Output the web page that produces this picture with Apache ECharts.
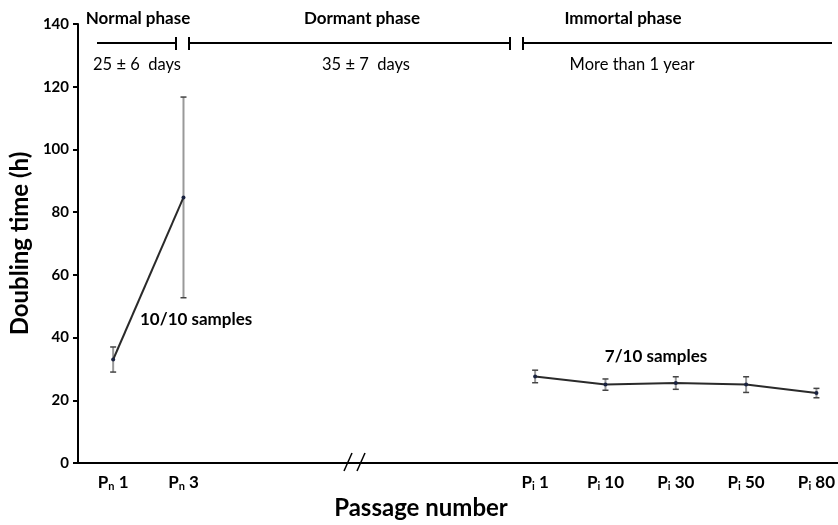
<!DOCTYPE html>
<html>
<head>
<meta charset="utf-8">
<script src="https://cdn.jsdelivr.net/npm/echarts@6/dist/echarts.min.js"></script>
<style>
  html, body { margin: 0; padding: 0; background: #fff; }
  #chart { width: 838px; height: 525px; }
</style>
</head>
<body>
<div id="chart"></div>
<script>
// passage positions on the (broken) x axis and their labels
const passagePos = [0, 1, 6, 7, 8, 9, 10];
const passagePhase = ['n', 'n', 'i', 'i', 'i', 'i', 'i'];
const passageNum = ['1', '3', '1', '10', '30', '50', '80'];
// doubling time (h), mean and error
const meanDoubling = [33, 84.7, 27.6, 25.0, 25.5, 25.0, 22.3];
const errDoubling = [4, 32, 2, 1.8, 2, 2.5, 1.5];
const yTicks = [0, 20, 40, 60, 80, 100, 120, 140];

const FONT = 'Lato';

const normalPts = [];
const immortalPts = [];
const errData = [];
passagePos.forEach((p, i) => {
  const pt = [p, meanDoubling[i]];
  if (passagePhase[i] === 'n') normalPts.push(pt); else immortalPts.push(pt);
  errData.push([p, meanDoubling[i] - errDoubling[i], meanDoubling[i] + errDoubling[i]]);
});

const chart = echarts.init(document.getElementById('chart'));

function lineSeries(data) {
  return {
    type: 'line',
    data: data,
    symbol: 'circle',
    symbolSize: 4,
    itemStyle: { color: '#1a2340' },
    lineStyle: { color: '#2a2a2a', width: 2 },
    z: 5,
    animation: false
  };
}

function txt(x, y, s, size, bold, align) {
  return {
    type: 'text', x: x, y: y,
    style: {
      text: s, fontFamily: FONT, fontWeight: bold ? 'bold' : 'normal', fontSize: size,
      fill: '#000', align: align || 'center', verticalAlign: 'middle'
    }
  };
}

function seg(x1, y1, x2, y2, w) {
  return { type: 'line', shape: { x1: x1, y1: y1, x2: x2, y2: y2 }, style: { stroke: '#000', lineWidth: w || 2 } };
}

const option = {
  animation: false,
  grid: { left: 77, right: 0, top: 24, bottom: 62, containLabel: false },
  xAxis: {
    type: 'value',
    min: -0.5,
    max: 10.3,
    axisLine: { show: true, onZero: false, lineStyle: { color: '#000', width: 2 } },
    axisTick: { show: false },
    splitLine: { show: false },
    axisLabel: {
      customValues: passagePos,
      margin: 11,
      formatter: function (v) {
        const i = passagePos.indexOf(v);
        if (i < 0) return '';
        return '{p|P}{s|' + passagePhase[i] + '}{p| ' + passageNum[i] + '}';
      },
      rich: {
        p: { fontFamily: FONT, fontWeight: 'bold', fontSize: 17, color: '#000' },
        s: { fontFamily: FONT, fontWeight: 'bold', fontSize: 11, color: '#000', verticalAlign: 'bottom', padding: [7, 0, 0, 0] }
      }
    }
  },
  yAxis: {
    type: 'value',
    min: 0,
    max: 140,
    interval: 20,
    name: 'Doubling time (h)',
    nameLocation: 'middle',
    nameGap: 40,
    nameTextStyle: { fontFamily: FONT, fontWeight: 'bold', fontSize: 24, color: '#000' },
    axisLine: { show: true, onZero: false, lineStyle: { color: '#000', width: 2 } },
    axisTick: { show: true, length: 5, lineStyle: { color: '#000', width: 2 } },
    splitLine: { show: false },
    axisLabel: {
      customValues: yTicks,
      margin: 9,
      fontFamily: FONT,
      fontWeight: 'bold',
      fontSize: 15,
      color: '#000'
    }
  },
  series: [
    lineSeries(normalPts),
    lineSeries(immortalPts),
    {
      type: 'custom',
      data: errData,
      z: 3,
      renderItem: function (params, api) {
        const x = api.value(0);
        const lo = api.coord([x, api.value(1)]);
        const hi = api.coord([x, api.value(2)]);
        const cap = 3;
        return {
          type: 'group',
          children: [
            { type: 'line', shape: { x1: lo[0], y1: lo[1], x2: hi[0], y2: hi[1] }, style: { stroke: '#999', lineWidth: 2 } },
            { type: 'line', shape: { x1: lo[0] - cap, y1: lo[1], x2: lo[0] + cap, y2: lo[1] }, style: { stroke: '#444', lineWidth: 1.5 } },
            { type: 'line', shape: { x1: hi[0] - cap, y1: hi[1], x2: hi[0] + cap, y2: hi[1] }, style: { stroke: '#444', lineWidth: 1.5 } }
          ]
        };
      }
    }
  ],
  graphic: [
    // phase timeline on top
    seg(97, 43, 176, 43), seg(176, 37, 176, 50), seg(189, 37, 189, 50),
    seg(189, 43, 510, 43), seg(510, 37, 510, 50), seg(523, 37, 523, 50),
    seg(523, 43, 832, 43),
    txt(138, 19, 'Normal phase', 17, true),
    txt(362, 19, 'Dormant phase', 17, true),
    txt(623, 19, 'Immortal phase', 17, true),
    txt(137, 65, '25 ± 6  days', 16.5, false),
    txt(366, 65, '35 ± 7  days', 16.5, false),
    txt(632, 65, 'More than 1 year', 16.5, false),
    // sample annotations
    txt(140, 320, '10/10 samples', 17, true, 'left'),
    txt(656, 357, '7/10 samples', 17, true),
    // axis break marks
    seg(344, 471, 352, 453, 1.5), seg(357, 471, 365, 453, 1.5),
    // x axis title
    txt(421, 508, 'Passage number', 24, true)
  ]
};

chart.setOption(option);
</script>
</body>
</html>
